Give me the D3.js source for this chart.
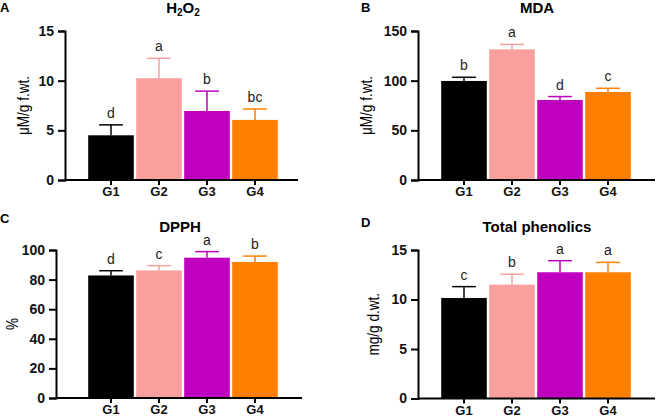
<!DOCTYPE html>
<html>
<head>
<meta charset="utf-8">
<script src="https://d3js.org/d3.v7.min.js"></script>
<style>
  body { margin: 0; background: #fff; }
  svg { font-family: "Liberation Sans", Arial, sans-serif; }
  .ya .tick text { font-weight: bold; font-size: 14px; fill: #111; }
  .xa .tick text { font-weight: bold; font-size: 13px; fill: #111; }
  .ytitle { font-family: "Liberation Sans Narrow", "Liberation Sans", Arial, sans-serif; font-size: 17px; }
</style>
</head>
<body>
<svg width="660" height="420"></svg>
<script>
// data
var groups = ["G1", "G2", "G3", "G4"];
var colors = ["#000000", "#f9a09e", "#bf00bf", "#ff8000"];

var h2o2Mean = [4.5, 10.25, 6.95, 6.05];
var h2o2Sd = [1.05, 2.0, 2.0, 1.1];
var h2o2Letters = ["d", "a", "b", "bc"];

var mdaMean = [99.7, 131.5, 80.5, 88.6];
var mdaSd = [3.7, 5.0, 3.5, 3.7];
var mdaLetters = ["b", "a", "d", "c"];

var dpphMean = [82.8, 86.2, 94.8, 91.9];
var dpphSd = [3.2, 3.2, 4.1, 4.0];
var dpphLetters = ["d", "c", "a", "b"];

var phenMean = [10.15, 11.5, 12.75, 12.75];
var phenSd = [1.15, 1.05, 1.17, 1.0];
var phenLetters = ["c", "b", "a", "a"];

var svg = d3.select("svg");

function panel(o) {
  var g = svg.append("g");
  var x = d3.scaleBand().domain(groups)
      .range([o.band, o.band + 192]).paddingInner(0.05).paddingOuter(0.025);
  var y = d3.scaleLinear().domain([0, o.max]).range([o.bottom, o.top]);

  // bars
  g.selectAll(".bar").data(o.mean).enter().append("rect")
    .attr("x", function(d, i) { return x(groups[i]); })
    .attr("y", function(d) { return y(d); })
    .attr("width", x.bandwidth())
    .attr("height", function(d) { return o.bottom - y(d); })
    .attr("fill", function(d, i) { return colors[i]; });

  // error bars (upper only) + letters
  var cap = x.bandwidth() * 0.26;
  o.mean.forEach(function(m, i) {
    var cx = x(groups[i]) + x.bandwidth() / 2;
    g.append("line").attr("x1", cx).attr("x2", cx)
      .attr("y1", y(m)).attr("y2", y(m + o.sd[i]))
      .attr("stroke", colors[i]).attr("stroke-width", 1.5);
    g.append("line").attr("x1", cx - cap).attr("x2", cx + cap)
      .attr("y1", y(m + o.sd[i])).attr("y2", y(m + o.sd[i]))
      .attr("stroke", colors[i]).attr("stroke-width", 1.5);
    g.append("text").attr("x", cx).attr("y", y(m + o.sd[i]) - 7)
      .attr("text-anchor", "middle").attr("font-size", 14)
      .attr("fill", "#222").text(o.letters[i]);
  });

  // axes
  var ya = g.append("g").attr("class", "ya").attr("transform", "translate(" + o.x0 + ",0)")
    .call(d3.axisLeft(y).tickValues(o.ticks).tickSize(7).tickPadding(4));
  ya.select(".domain").attr("stroke-width", 2);
  ya.selectAll(".tick line").attr("stroke-width", 2);

  var xa = g.append("g").attr("class", "xa").attr("transform", "translate(0," + o.bottom + ")")
    .call(d3.axisBottom(x).tickSize(5).tickPadding(2).tickSizeOuter(0));
  xa.select(".domain").attr("d", "M" + o.x0 + ",0H" + o.xEnd).attr("stroke-width", 2);
  xa.selectAll(".tick line").attr("stroke-width", 2);

  // titles
  g.append("text").attr("x", o.titleX).attr("y", o.titleY)
    .attr("text-anchor", "middle").attr("font-weight", "bold").attr("font-size", 15)
    .html(o.title);
  g.append("text").attr("x", o.labX).attr("y", o.labY)
    .attr("font-weight", "bold").attr("font-size", 13).text(o.label);
  g.append("text").attr("class", "ytitle")
    .attr("transform", "translate(" + o.ytX + "," + ((o.top + o.bottom) / 2) + ") rotate(-90) scale(0.8,1)")
    .attr("text-anchor", "middle").attr("dy", "0.35em").text(o.ytitle);
}

panel({x0: 65, band: 87, xEnd: 298, top: 31, bottom: 180, max: 15, ticks: [0, 5, 10, 15],
  mean: h2o2Mean, sd: h2o2Sd, letters: h2o2Letters,
  title: 'H<tspan dy="3" font-size="10">2</tspan><tspan dy="-3">O</tspan><tspan dy="3" font-size="10">2</tspan>',
  titleX: 183, titleY: 13, label: "A", labX: 0, labY: 12, ytitle: "μM/g f.wt.", ytX: 23});

panel({x0: 418, band: 440, xEnd: 655, top: 31, bottom: 180, max: 150, ticks: [0, 50, 100, 150],
  mean: mdaMean, sd: mdaSd, letters: mdaLetters,
  title: "MDA", titleX: 537, titleY: 13, label: "B", labX: 361, labY: 12, ytitle: "μM/g f.wt.", ytX: 366});

panel({x0: 56, band: 87, xEnd: 302, top: 250, bottom: 398, max: 100, ticks: [0, 20, 40, 60, 80, 100],
  mean: dpphMean, sd: dpphSd, letters: dpphLetters,
  title: "DPPH", titleX: 180, titleY: 232, label: "C", labX: 0, labY: 223, ytitle: "%", ytX: 12});

panel({x0: 418, band: 440, xEnd: 655, top: 250, bottom: 398.5, max: 15, ticks: [0, 5, 10, 15],
  mean: phenMean, sd: phenSd, letters: phenLetters,
  title: "Total phenolics", titleX: 537, titleY: 232, label: "D", labX: 361, labY: 227, ytitle: "mg/g d.wt.", ytX: 373});
</script>
</body>
</html>
